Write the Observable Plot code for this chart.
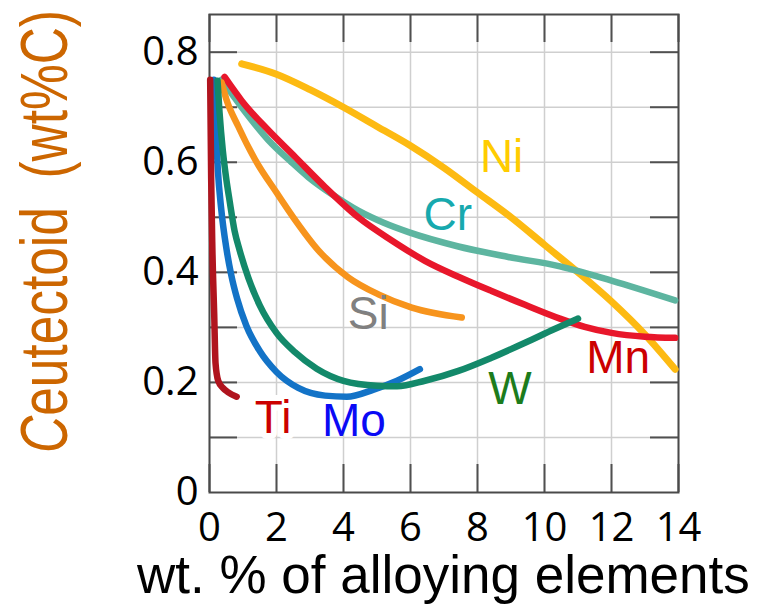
<!DOCTYPE html>
<html><head><meta charset="utf-8">
<script src="https://cdn.jsdelivr.net/npm/d3@7"></script>
<script src="https://cdn.jsdelivr.net/npm/@observablehq/plot@0.6"></script>
<style>body{margin:0;background:#fff;} #chart{width:758px;height:606px;}</style>
</head><body><div id="chart"></div>
<script>
// ---- data ----
const seriesNames = ["Ni", "Cr", "Mn", "Si", "Mo", "W", "Ti"];
const lineColors = ["#FDBA12", "#5DB5A0", "#E8172B", "#F7941D", "#1373C7", "#13896A", "#B0141E"];
const niX = [0.96, 2, 3, 4, 5, 6, 7, 8, 9, 10, 11, 12, 13, 13.9];
const niY = [0.779, 0.76, 0.732, 0.70, 0.665, 0.63, 0.59, 0.545, 0.50, 0.45, 0.400, 0.347, 0.287, 0.224];
const crX = [0.36, 0.96, 1.76, 2.45, 2.95, 3.7, 4.44, 5.2, 5.94, 7.43, 8.92, 10.46, 12, 13.9];
const crY = [0.75, 0.70, 0.64, 0.60, 0.573, 0.54, 0.512, 0.49, 0.473, 0.447, 0.428, 0.411, 0.385, 0.349];
const mnX = [0.45, 0.96, 1.76, 2.55, 3.45, 4.44, 5.44, 6.43, 7.43, 8.42, 9.42, 10.46, 11.2, 12, 13, 13.9];
const mnY = [0.755, 0.712, 0.658, 0.61, 0.555, 0.50, 0.458, 0.421, 0.392, 0.366, 0.341, 0.316, 0.301, 0.290, 0.283, 0.281];
const siX = [0.36, 0.5, 0.86, 1.36, 2, 2.5, 3.25, 4.14, 5.04, 6.04, 7.53];
const siY = [0.745, 0.715, 0.665, 0.605, 0.545, 0.50, 0.44, 0.391, 0.36, 0.336, 0.318];
const moX = [0.13, 0.18, 0.25, 0.35, 0.5, 0.65, 0.82, 1.1, 1.5, 2.0, 2.65, 3.45, 4.1, 4.9, 5.6, 6.28];
const moY = [0.75, 0.67, 0.585, 0.515, 0.445, 0.395, 0.353, 0.303, 0.257, 0.219, 0.19, 0.176, 0.174, 0.187, 0.203, 0.224];
const wX = [0.24, 0.3, 0.4, 0.5, 0.6, 0.75, 0.9, 1.16, 1.5, 2.0, 2.55, 3.2, 4.0, 5.0, 5.6, 6.43, 7.43, 8.42, 9.42, 10.3, 11.0];
const wY = [0.748, 0.69, 0.62, 0.57, 0.53, 0.475, 0.44, 0.39, 0.34, 0.29, 0.255, 0.225, 0.203, 0.194, 0.193, 0.203, 0.221, 0.245, 0.272, 0.297, 0.316];
const tiX = [0.02, 0.05, 0.085, 0.14, 0.18, 0.26, 0.4, 0.56, 0.81];
const tiY = [0.75, 0.57, 0.445, 0.325, 0.235, 0.203, 0.19, 0.182, 0.174];
const seriesX = [niX, crX, mnX, siX, moX, wX, tiX];
const seriesY = [niY, crY, mnY, siY, moY, wY, tiY];

const labelText = ["Ni", "Cr", "Si", "Mn", "W", "Mo", "Ti"];
const labelX = [8.72, 7.11, 4.74, 12.2, 8.97, 4.31, 1.9];
const labelY = [0.609, 0.503, 0.324, 0.243, 0.188, 0.13, 0.134];
const labelColors = ["#FFCC00", "#17A9AE", "#808080", "#CC0000", "#1C7C1C", "#0A0AF5", "#CC0000"];

const xTicks = [0, 2, 4, 6, 8, 10, 12, 14];
const xTickLabels = ["0", "2", "4", "6", "8", "10", "12", "14"];
const yTicks = [0, 0.2, 0.4, 0.6, 0.8];
const yTickLabels = ["0", "0.2", "0.4", "0.6", "0.8"];
const yGrid = [0.1, 0.2, 0.3, 0.4, 0.5, 0.6, 0.7, 0.8];
const xTitle = "wt. % of alloying elements";
const yTitleItalic = "C";
const yTitleRest = "eutectoid\u00a0\u00a0(wt%C)";

// ---- layout ----
const W = 758, H = 606, mL = 209, mR = 80, mT = 14, mB = 114;
const plotW = W - mL - mR, plotH = H - mT - mB;
const tickLen = 28;

const rows = [];
seriesNames.forEach((name, i) => {
  seriesX[i].forEach((x, j) => rows.push({name, x, y: seriesY[i][j]}));
});
const labels = labelText.map((t, i) => ({t, x: labelX[i], y: labelY[i], c: labelColors[i]}));

const lineMarks = seriesNames.map((name, i) =>
  Plot.line(rows.filter(r => r.name === name), {
    x: "x", y: "y", stroke: lineColors[i], strokeWidth: name === "Ni" ? 7 : 6.5,
    curve: "monotone-x", strokeLinecap: "round", strokeLinejoin: "round"
  })
);

const plot = Plot.plot({
  width: W, height: H,
  marginLeft: mL, marginRight: mR, marginTop: mT, marginBottom: mB,
  x: {domain: [0, 14]},
  y: {domain: [0, 0.8685]},
  style: {fontFamily: "Open Sans", background: "white", color: "black"},
  marks: [
    Plot.ruleX(xTicks, {stroke: "#cfcfcf", strokeWidth: 1.5}),
    Plot.ruleY(yGrid, {stroke: "#cfcfcf", strokeWidth: 1.5}),
    Plot.ruleX(xTicks, {stroke: "#505050", strokeWidth: 2, insetTop: plotH - tickLen}),
    Plot.ruleX(xTicks, {stroke: "#505050", strokeWidth: 2, insetBottom: plotH - tickLen}),
    Plot.ruleY(yGrid, {stroke: "#505050", strokeWidth: 2, insetRight: plotW - tickLen}),
    Plot.ruleY(yGrid, {stroke: "#505050", strokeWidth: 2, insetLeft: plotW - tickLen}),
    Plot.frame({stroke: "#4a4a4a", strokeWidth: 2}),
    Plot.axisX(xTicks, {tickSize: 0, tickPadding: 20, fontSize: 40, label: null,
      tickFormat: d => xTickLabels[xTicks.indexOf(d)]}),
    Plot.axisY(yTicks, {tickSize: 0, tickPadding: 11, fontSize: 40, label: null,
      tickFormat: d => yTickLabels[yTicks.indexOf(d)]}),
    ...lineMarks,
    Plot.text(labels.filter(d => d.t !== "Ti"), {x: "x", y: "y", text: "t", fill: d => d.c,
      fontSize: 46, fontFamily: "Liberation Sans, Arial"}),
    Plot.text(labels.filter(d => d.t === "Ti"), {x: "x", y: "y", text: "t", fill: d => d.c,
      stroke: "white", strokeWidth: 12, fontSize: 46, fontFamily: "Liberation Sans, Arial"})
  ]
});

const svg = d3.select(plot);
svg.append("text")
  .attr("x", 137).attr("y", 593)
  .attr("text-anchor", "start")
  .attr("font-family", "Liberation Sans, Arial").attr("font-size", 53)
  .attr("fill", "black").text(xTitle);
const yt = svg.append("text")
  .attr("transform", "translate(67,453) rotate(-90)")
  .attr("text-anchor", "start")
  .attr("font-family", "Liberation Sans, Arial").attr("font-size", 66)
  .attr("fill", "#CC6600")
  .attr("textLength", 443).attr("lengthAdjust", "spacingAndGlyphs");
yt.append("tspan").attr("font-style", "italic").text(yTitleItalic);
yt.append("tspan").text(yTitleRest);

document.getElementById("chart").appendChild(plot);
</script>
</body></html>
